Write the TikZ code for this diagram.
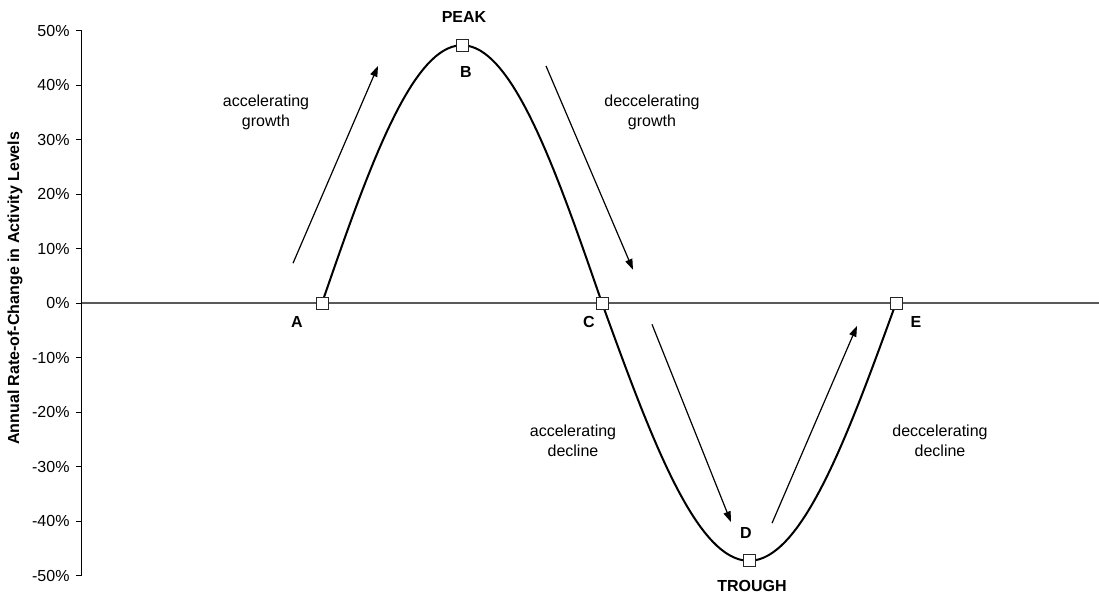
\documentclass[tikz,border=0pt]{standalone}
\usepackage{fontspec}
\setmainfont{Liberation Sans}
\usepackage{tikz}
\usetikzlibrary{arrows.meta, positioning}
\definecolor{AxisGray}{HTML}{595959}

\begin{document}
\begin{tikzpicture}[
  x = 0.75pt, y = 4.0875pt,
  axis/.style   = {draw=black, line width=0.75pt},
  zero/.style   = {draw=AxisGray, line width=1.1pt},
  curve/.style  = {draw=black, line width=1.5pt},
  marker/.style = {draw=black!85, fill=white, line width=0.75pt,
                   minimum size=9pt, inner sep=0pt},
  tick/.style   = {font=\fontsize{12}{14}\selectfont, anchor=east, inner sep=0pt},
  letter/.style = {font=\fontsize{12}{14}\selectfont\bfseries, inner sep=0pt},
  phase/.style  = {font=\fontsize{12}{15}\selectfont, align=center, inner sep=0pt},
  arr/.style    = {-{Triangle[length=8pt,width=5.5pt]}, line width=0.9pt},
]
\useasboundingbox (-82,-53.94) rectangle (1017,55.6);
% axes
\draw[zero] (0,0) -- (1017,0);
\draw[axis] (0,-50) -- (0,50);
\foreach \v in {-50,-40,...,50}
  \draw[axis] (-6,\v) -- (0,\v) node[tick] at (-12,\v) {\v\%};
\node[letter, rotate=90] (ylab) at (-67,2.7) {Annual Rate-of-Change in Activity Levels};
% the cycle
\draw[curve] plot[domain=240:520, samples=70] (\x,{47.3*sin((\x-240)/280*180)})
          -- plot[domain=520:814, samples=70] (\x,{-47.3*sin((\x-520)/294*180)});
\node[marker] (A) at (240,0)     {};
\node[marker] (B) at (380,47.3)  {};
\node[marker] (C) at (520,0)     {};
\node[marker] (D) at (667,-47.3) {};
\node[marker] (E) at (814,0)     {};
\node[letter] (la) at (215,-3.5)  {A};
\node[letter] (lb) at (384,42.4)  {B};
\node[letter] (lc) at (507,-3.5)  {C};
\node[letter] (ld) at (664,-42.2) {D};
\node[letter] (le) at (834,-3.5)  {E};
\node[letter] (peak)   at (382,52.5)  {PEAK};
\node[letter] (trough) at (670,-51.9) {TROUGH};
% phases
\node[phase] (ag) at (184,34.9)  {accelerating\\growth};
\node[phase] (dg) at (570,34.9)  {deccelerating\\growth};
\node[phase] (ad) at (491,-25.3) {accelerating\\decline};
\node[phase] (dd) at (858,-25.3) {deccelerating\\decline};
\coordinate (ag0) at (211,7.3);   \coordinate (ag1) at (296,43.5);
\coordinate (dg0) at (464,43.5);  \coordinate (dg1) at (551,6.1);
\coordinate (ad0) at (570,-3.9);  \coordinate (ad1) at (649,-40.2);
\coordinate (dd0) at (690,-40.4); \coordinate (dd1) at (775,-4.2);
\foreach \x/\y in {ag0/ag1,dg0/dg1,ad0/ad1,dd0/dd1}
  \draw[arr] (\x) -- (\y);
\end{tikzpicture}
\end{document}
